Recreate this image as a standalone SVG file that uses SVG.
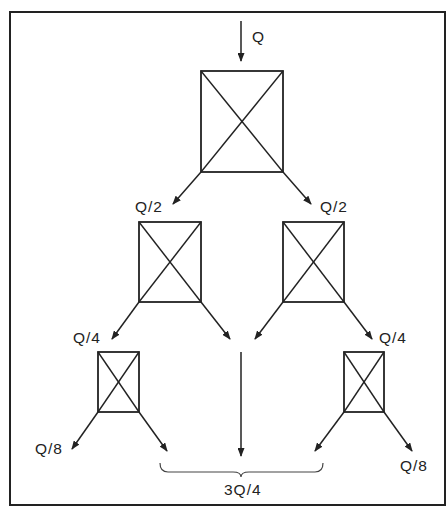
<svg xmlns="http://www.w3.org/2000/svg" width="447" height="508" viewBox="0 0 447 508">
<style>
.box{fill:none;stroke:#222;stroke-width:1.8}
.diag{stroke:#222;stroke-width:1.4}
.arr{fill:none;stroke:#222;stroke-width:1.5;marker-end:url(#ah)}
.lbl{font-family:"Liberation Sans",Arial,sans-serif;font-size:15.5px;letter-spacing:1px;fill:#222}
</style>
<defs>
<marker id="ah" markerUnits="userSpaceOnUse" markerWidth="9" markerHeight="7" refX="8" refY="3.5" orient="auto">
<path d="M0,0 L9,3.5 L0,7 Z" fill="#222"/>
</marker>
</defs>
<rect x="10" y="12" width="435" height="493" fill="#fff" stroke="#222" stroke-width="2"/>
<g id="n-top">
<rect class="box" x="201" y="71" width="82" height="101"/>
<line class="diag" x1="201" y1="71" x2="283" y2="172"/>
<line class="diag" x1="283" y1="71" x2="201" y2="172"/>
</g>
<g id="n-mid-left">
<rect class="box" x="139" y="222" width="62" height="80"/>
<line class="diag" x1="139" y1="222" x2="201" y2="302"/>
<line class="diag" x1="201" y1="222" x2="139" y2="302"/>
</g>
<g id="n-mid-right">
<rect class="box" x="283" y="222" width="61" height="80"/>
<line class="diag" x1="283" y1="222" x2="344" y2="302"/>
<line class="diag" x1="344" y1="222" x2="283" y2="302"/>
</g>
<g id="n-low-left">
<rect class="box" x="98" y="352" width="41" height="60"/>
<line class="diag" x1="98" y1="352" x2="139" y2="412"/>
<line class="diag" x1="139" y1="352" x2="98" y2="412"/>
</g>
<g id="n-low-right">
<rect class="box" x="344" y="352" width="40" height="60"/>
<line class="diag" x1="344" y1="352" x2="384" y2="412"/>
<line class="diag" x1="384" y1="352" x2="344" y2="412"/>
</g>
<g id="connectors">
<line class="arr" x1="241" y1="21" x2="241" y2="61"/>
<line class="arr" x1="201" y1="172" x2="173" y2="204"/>
<line class="arr" x1="283" y1="172" x2="311" y2="204"/>
<line class="arr" x1="139" y1="302" x2="112" y2="339"/>
<line class="arr" x1="201" y1="302" x2="230" y2="339"/>
<line class="arr" x1="283" y1="302" x2="255" y2="339"/>
<line class="arr" x1="344" y1="302" x2="372" y2="339"/>
<line class="arr" x1="241" y1="352" x2="241" y2="456"/>
<line class="arr" x1="98" y1="412" x2="72" y2="449"/>
<line class="arr" x1="139" y1="412" x2="167" y2="451"/>
<line class="arr" x1="344" y1="412" x2="315" y2="451"/>
<line class="arr" x1="384" y1="412" x2="412" y2="451"/>
<path d="M160,463 Q160,472 168,472 L233,472 Q241,472 241,477 Q241,472 249,472 L315,472 Q323,472 323,463" fill="none" stroke="#444" stroke-width="1.2"/>
</g>
<g id="labels">
<text class="lbl" x="252" y="42">Q</text>
<text class="lbl" x="135" y="212">Q/2</text>
<text class="lbl" x="320" y="212">Q/2</text>
<text class="lbl" x="73" y="343">Q/4</text>
<text class="lbl" x="379" y="343">Q/4</text>
<text class="lbl" x="35" y="454">Q/8</text>
<text class="lbl" x="400" y="471">Q/8</text>
<text class="lbl" x="224" y="495">3Q/4</text>
</g>
</svg>
